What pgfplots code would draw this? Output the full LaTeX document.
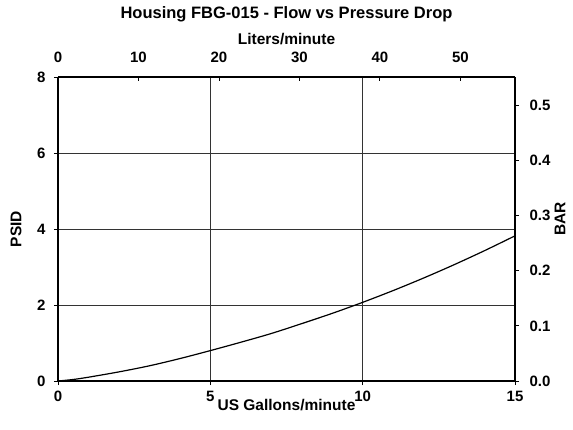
\documentclass[border=0pt]{standalone}
\usepackage{fontspec}
\setmainfont{Liberation Sans}
\usepackage{pgfplots}
\pgfplotsset{compat=1.18}
\begin{document}
\begin{tikzpicture}[x=1pt,y=1pt]
\pgfplotsset{
  every axis/.append style={
    scale only axis, width=457pt, height=304pt,
    at={(0pt,0pt)}, anchor=south west,
    /pgf/number format/assume math mode=true,
    tick label style={font=\bfseries\fontsize{15}{16}\selectfont},
    label style={font=\bfseries\fontsize{15.5}{17}\selectfont},
    axis line style={black, line width=1.3pt},
    major tick length=4pt,
    tick style={black, line width=0.9pt},
  }
}
\begin{axis}[
  xmin=0, xmax=15, ymin=0, ymax=8,
  axis x line*=bottom, axis y line*=left,
  xtick={0,5,10,15}, ytick={0,2,4,6,8},
  tick align=outside,
  grid=major,
  major grid style={black!80, line width=1pt},
  xlabel={US Gallons/minute},
  ylabel={PSID},
  xlabel style={at={(axis description cs:0.5,0)}, anchor=center, yshift=-24.5pt},
  ylabel style={at={(axis description cs:0,0.5)}, anchor=center, yshift=42pt},
  xticklabel style={anchor=center, yshift=-11pt},
  yticklabel style={anchor=east, xshift=-5pt},
]
\addplot[black, line width=1.2pt, smooth] coordinates {
(0,0) (0.5,0.04) (1,0.10) (2,0.24) (3,0.40) (4,0.59) (5,0.80) (6,1.02) (7,1.25) (8,1.51)
(9,1.78) (10,2.07) (11,2.38) (12,2.71) (13,3.06) (14,3.43) (15,3.82)
};
\end{axis}
\begin{axis}[
  xmin=0, xmax=56.781, ymin=0, ymax=0.5516,
  axis x line*=top, axis y line*=right,
  xtick={0,10,20,30,40,50}, ytick={0,0.1,0.2,0.3,0.4,0.5},
  xtick align=inside, ytick align=outside,
  yticklabel style={anchor=west, xshift=7pt, /pgf/number format/.cd, fixed, fixed zerofill, precision=1},
  xlabel={Liters/minute},
  ylabel={BAR},
  xlabel style={at={(axis description cs:0.5,1)}, anchor=center, yshift=38pt},
  ylabel style={at={(axis description cs:1,0.5)}, anchor=center, yshift=-45pt, xshift=10pt},
  xticklabel style={anchor=center, yshift=20pt},
  title={Housing FBG-015 - Flow vs Pressure Drop},
  title style={font=\bfseries\fontsize{16.5}{18}\selectfont, at={(axis description cs:0.5,1)}, anchor=center, yshift=57pt},
]
\addplot[draw=none] coordinates {(0,0)};
\end{axis}
\pgfresetboundingbox
\path[use as bounding box] (-58pt,-48pt) rectangle (515pt,381pt);
\end{tikzpicture}
\end{document}
